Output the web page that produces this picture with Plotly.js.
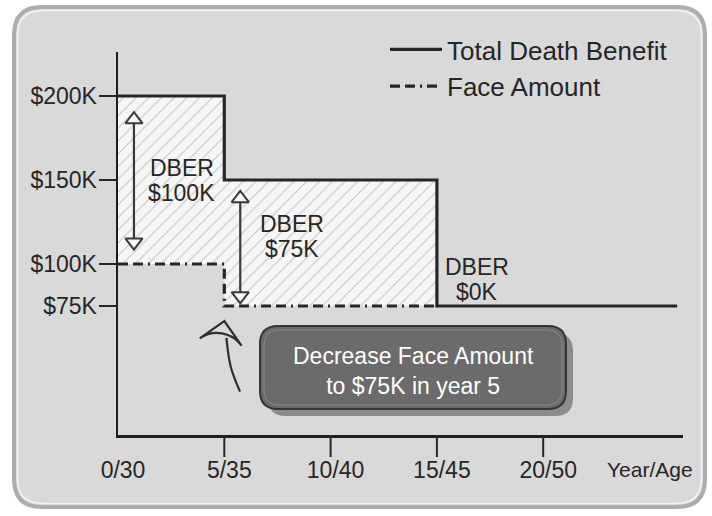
<!DOCTYPE html>
<html>
<head>
<meta charset="utf-8">
<script src="https://cdn.plot.ly/plotly-3.0.1.min.js"></script>
<style>
  html, body { margin: 0; padding: 0; background: #ffffff; }
  #chart { width: 712px; height: 516px; }
</style>
</head>
<body>
<div id="chart"></div>
<script>
// ---------------- data ----------------
const benefitYears = [0, 5, 15, 26.3];
const totalDeathBenefit = [200, 150, 75, 75];      // $K
const faceYears = [0, 5, 15];
const faceAmount = [100, 75, 75];                  // $K

const xTickVals = [0, 5, 10, 15, 20];
const xTickText = ['0/30', '5/35', '10/40', '15/45', '20/50'];
const yTickVals = [200, 150, 100, 75];
const yTickText = ['$200K', '$150K', '$100K', '$75K'];

const dberValues = ['$100K', '$75K', '$0K'];
const dberLabelX = [3.0, 8.2, 16.9];
const dberLabelY = [157, 124, 98.5];

const arrowX = [0.75, 5.75];
const arrowTop = [186, 139];
const arrowBottom = [113, 81];

const curveX = [5.74, 5.3, 5.1];
const curveY = [24, 39, 56];
const curveHead = { x: 5.0, y: 66 };

const calloutText = 'Decrease Face Amount<br>to $75K in year 5';

// ---------------- layout geometry ----------------
const W = 712, H = 516;
const M = { l: 118, r: 29, t: 52, b: 81 };
const PW = W - M.l - M.r, PH = H - M.t - M.b;
const px = p => (p - M.l) / PW;           // pixel -> paper x
const py = p => (H - M.b - p) / PH;       // pixel -> paper y
const FONT = '"Liberation Sans", Arial, "DejaVu Sans", sans-serif';
const INK = '#262626';

function stepPoints(xs, ys) {
  const X = [xs[0]], Y = [ys[0]];
  for (let i = 1; i < xs.length; i++) {
    X.push(xs[i]); Y.push(ys[i - 1]);
    X.push(xs[i]); Y.push(ys[i]);
  }
  return { X, Y };
}

function roundRectPx(x0, y0, x1, y1, r) {
  const P = (x, y) => px(x).toFixed(5) + ',' + py(y).toFixed(5);
  return 'M' + P(x0 + r, y0) + ' L' + P(x1 - r, y0) + ' Q' + P(x1, y0) + ' ' + P(x1, y0 + r) +
    ' L' + P(x1, y1 - r) + ' Q' + P(x1, y1) + ' ' + P(x1 - r, y1) +
    ' L' + P(x0 + r, y1) + ' Q' + P(x0, y1) + ' ' + P(x0, y1 - r) +
    ' L' + P(x0, y0 + r) + ' Q' + P(x0, y0) + ' ' + P(x0 + r, y0) + ' Z';
}

// hatched region between total death benefit and face amount (years 0..15)
const lastFaceYear = faceYears[faceYears.length - 1];
const dbIdx = benefitYears.filter(x => x <= lastFaceYear).length;
const dbStep = stepPoints(benefitYears.slice(0, dbIdx), totalDeathBenefit.slice(0, dbIdx));
const faStep = stepPoints(faceYears, faceAmount);
const fillX = dbStep.X.concat(faStep.X.slice().reverse());
const fillY = dbStep.Y.concat(faStep.Y.slice().reverse());

const traces = [
  {
    x: fillX, y: fillY, mode: 'lines', fill: 'toself',
    fillcolor: '#f6f6f6',
    fillpattern: { shape: '/', bgcolor: '#f6f6f6', fgcolor: '#c4c4c4', size: 9, solidity: 0.12 },
    line: { width: 0, color: 'rgba(0,0,0,0)' },
    showlegend: false, hoverinfo: 'skip'
  },
  {
    x: benefitYears, y: totalDeathBenefit, mode: 'lines', name: 'Total Death Benefit',
    line: { shape: 'hv', color: INK, width: 3.2 }, legendgroup: 'a'
  },
  {
    x: faceYears, y: faceAmount, mode: 'lines', name: 'Face Amount',
    line: { shape: 'hv', color: INK, width: 3.2, dash: '10px,5px,10px,5px,2px,5px' }, legendgroup: 'b'
  }
];

// double-headed DBER arrows
arrowX.forEach((x, i) => {
  traces.push({
    x: [x, x], y: [arrowTop[i], arrowBottom[i]], mode: 'lines+markers',
    line: { color: '#3a3a3a', width: 2.2 },
    marker: {
      symbol: ['triangle-up', 'triangle-down'], size: 15, color: '#f6f6f6',
      line: { color: '#3a3a3a', width: 2 }
    },
    showlegend: false, hoverinfo: 'skip', cliponaxis: false
  });
});

// curved arrow toward the face-amount decrease
traces.push({
  x: curveX, y: curveY, mode: 'lines', line: { shape: 'spline', color: '#2e2e2e', width: 2.2 },
  showlegend: false, hoverinfo: 'skip'
});
traces.push({
  x: [curveHead.x], y: [curveHead.y], mode: 'markers',
  marker: { symbol: 'arrow-wide', size: 30, angle: 10, color: '#d9d9d9', line: { color: '#2e2e2e', width: 2.2 } },
  showlegend: false, hoverinfo: 'skip'
});

const annotations = [];
dberValues.forEach((v, i) => {
  annotations.push({ x: dberLabelX[i], y: dberLabelY[i], xref: 'x', yref: 'y', text: 'DBER',
    showarrow: false, font: { family: FONT, size: 23, color: INK } });
  annotations.push({ x: dberLabelX[i], y: dberLabelY[i], xref: 'x', yref: 'y', text: v, yshift: -25,
    showarrow: false, font: { family: FONT, size: 23, color: INK } });
});
annotations.push({ x: px(413), y: py(371), xref: 'paper', yref: 'paper', xanchor: 'center', yanchor: 'middle',
  text: calloutText, showarrow: false, align: 'center', font: { family: FONT, size: 23, color: '#ffffff' } });
annotations.push({ x: px(650), y: py(470), xref: 'paper', yref: 'paper', xanchor: 'center', yanchor: 'middle',
  text: 'Year/Age', showarrow: false, font: { family: FONT, size: 21, color: INK } });

const shapes = [
  { type: 'path', xref: 'paper', yref: 'paper', layer: 'below', path: roundRectPx(14, 7, 705, 507, 28),
    fillcolor: '#d9d9d9', line: { color: '#adadad', width: 4 } },
  { type: 'path', xref: 'paper', yref: 'paper', layer: 'below', path: roundRectPx(17.5, 10.5, 701.5, 503.5, 25),
    fillcolor: 'rgba(0,0,0,0)', line: { color: '#f4f4f4', width: 1.5 } },
  { type: 'path', xref: 'paper', yref: 'paper', path: roundRectPx(268, 333, 573, 416, 18),
    fillcolor: '#8c8c8c', line: { width: 0 } },
  { type: 'path', xref: 'paper', yref: 'paper', path: roundRectPx(260, 326, 566, 409, 18),
    fillcolor: '#6b6b6b', line: { color: '#353535', width: 2 } },
  { type: 'path', xref: 'paper', yref: 'paper', path: roundRectPx(264, 330, 562, 405, 15),
    fillcolor: 'rgba(0,0,0,0)', line: { color: '#8a8a8a', width: 1 } }
];
xTickVals.filter(v => v > 0).forEach(v => {
  shapes.push({ type: 'line', xref: 'x', yref: 'paper', x0: v, x1: v, y0: 0, y1: -22 / PH,
    line: { color: INK, width: 2 } });
});

const layout = {
  width: W, height: H,
  margin: M,
  paper_bgcolor: '#ffffff', plot_bgcolor: 'rgba(0,0,0,0)',
  font: { family: FONT, color: INK },
  showlegend: true,
  legend: {
    x: px(385), y: py(26), xanchor: 'left', yanchor: 'top',
    bgcolor: 'rgba(0,0,0,0)', font: { family: FONT, size: 26, color: INK },
    traceorder: 'grouped', tracegroupgap: 0, itemwidth: 52
  },
  xaxis: {
    range: [0, PW / 21.26], showgrid: false, zeroline: false,
    showline: true, linecolor: '#1e1e1e', linewidth: 2.5,
    tickmode: 'array', tickvals: xTickVals, ticktext: xTickText, ticks: '',
    ticklabelstandoff: 13, ticklabelshift: 5,
    tickfont: { family: FONT, size: 23, color: INK }, fixedrange: true
  },
  yaxis: {
    range: [-1.8, 226.2], showgrid: false, zeroline: false,
    showline: true, linecolor: '#1e1e1e', linewidth: 2.5,
    tickmode: 'array', tickvals: yTickVals, ticktext: yTickText,
    ticks: 'outside', ticklen: 17, tickwidth: 2, tickcolor: INK,
    ticklabelstandoff: -3,
    tickfont: { family: FONT, size: 23, color: INK }, fixedrange: true
  },
  shapes, annotations
};

Plotly.newPlot('chart', traces, layout, { displayModeBar: false, staticPlot: true });
</script>
</body>
</html>
